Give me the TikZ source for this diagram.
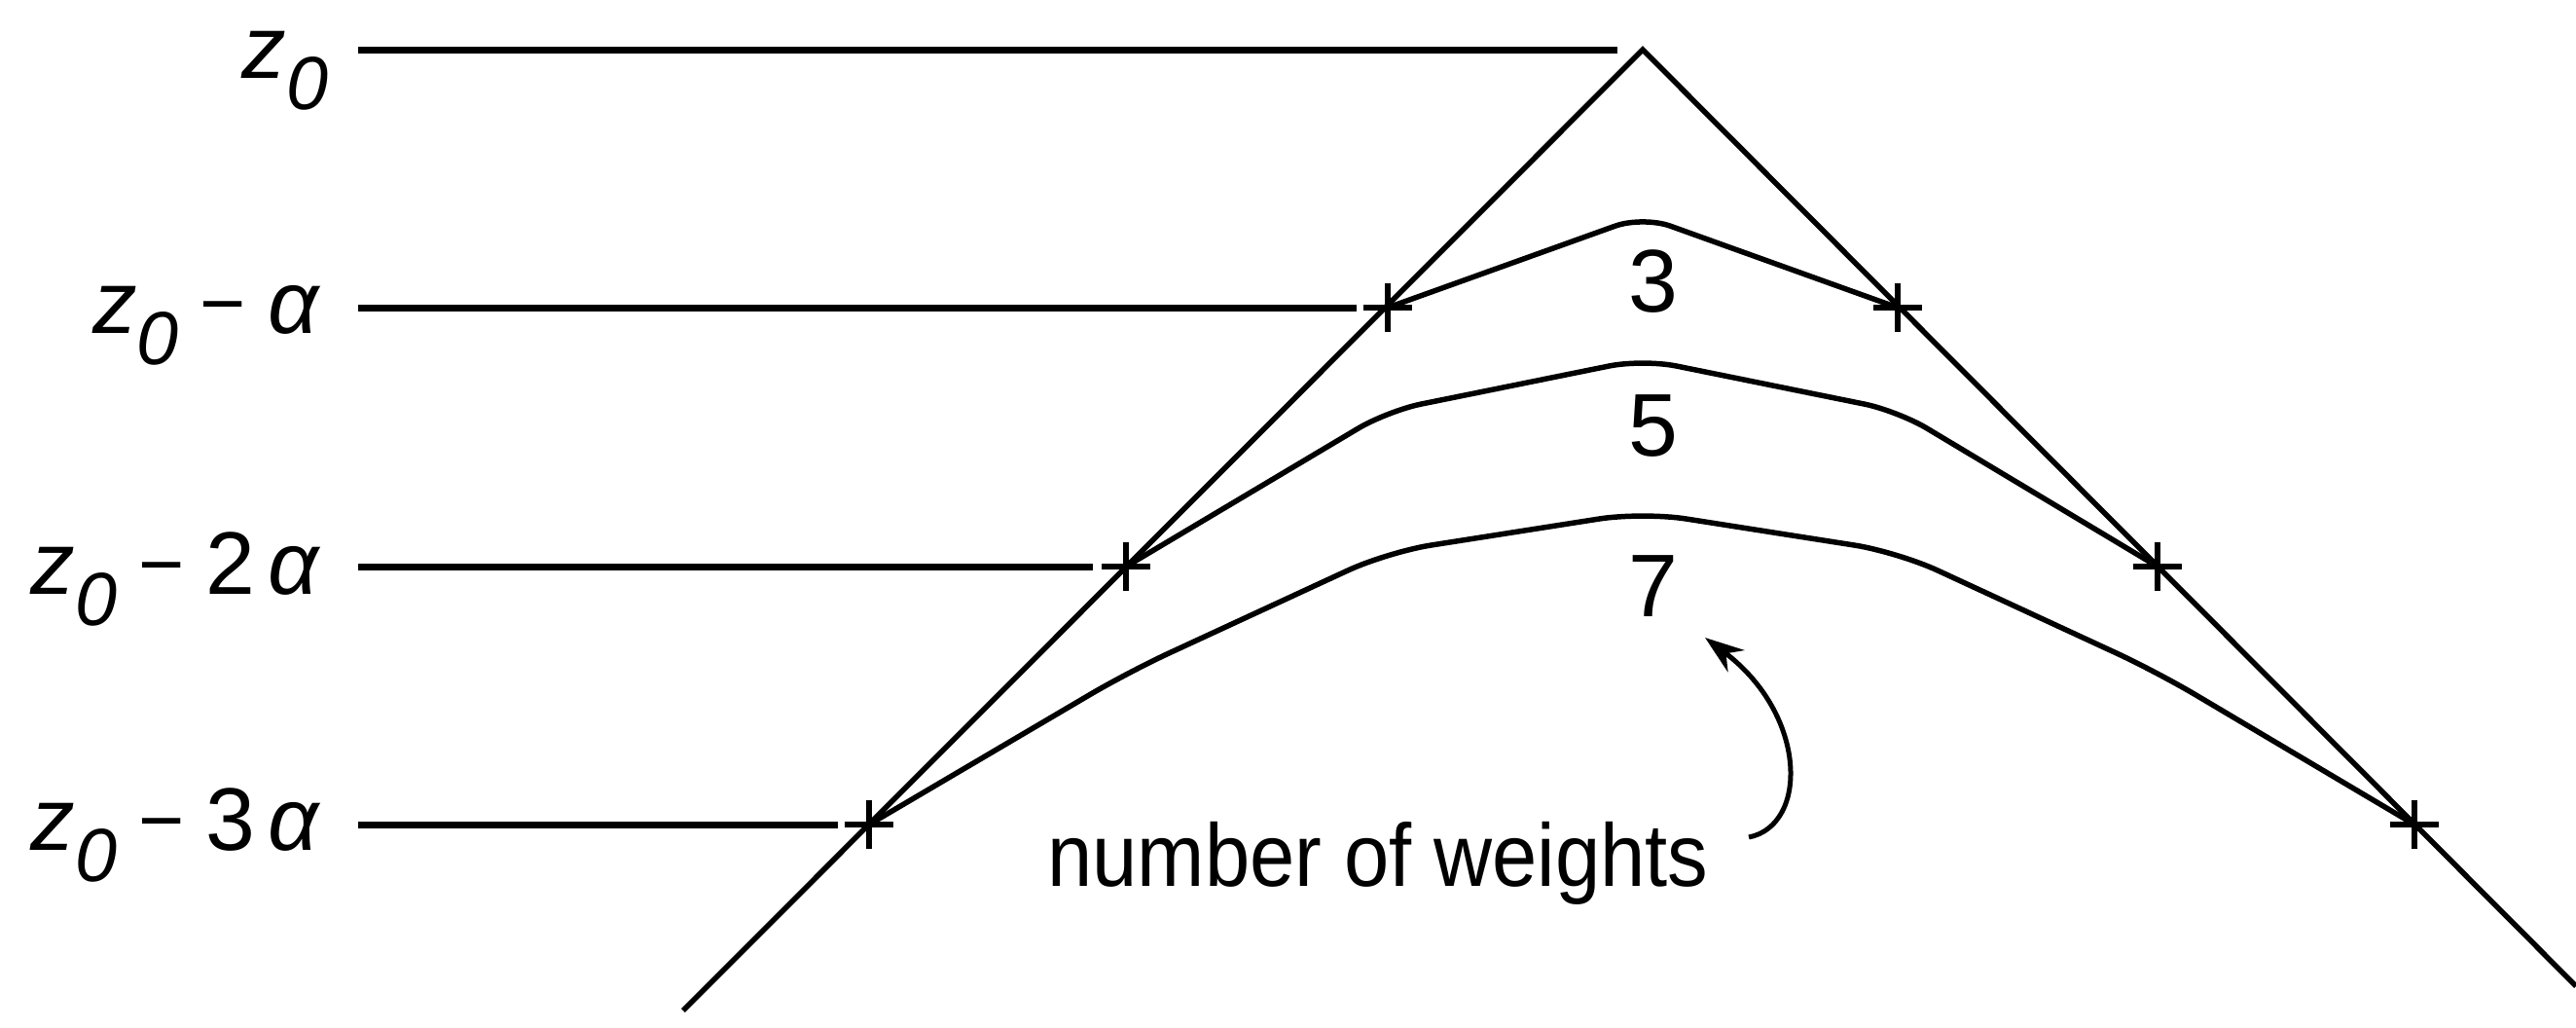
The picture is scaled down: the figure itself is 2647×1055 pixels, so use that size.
\documentclass[tikz,border=0pt]{standalone}
\usepackage{fontspec}
\setmainfont{Liberation Sans}
\newfontfamily\narrowsans[FakeStretch=0.91]{Liberation Sans}
\usetikzlibrary{arrows.meta}
\newcommand\zzero{\textit{z}\raisebox{-3.2mm}{\fontsize{22}{24}\selectfont\textit{0}}}
\newcommand\zminus[1]{\zzero\hspace{2.2mm}{\fontsize{23}{24}\selectfont\raisebox{0.3mm}{−}}\hspace{2.2mm}#1\textit{α}}
\begin{document}
\begin{tikzpicture}[x=0.1mm,y=-0.1mm,
  hline/.style={line width=0.7mm},
  slant/.style={line width=0.55mm},
  wcurve/.style={line width=0.55mm, line join=round},
  plusmark/.style={line width=0.6mm},
  zlabel/.style={anchor=base east, inner sep=0pt, font=\fontsize{26}{30}\selectfont},
  wnum/.style={anchor=base, inner sep=0pt, font=\fontsize{26}{30}\selectfont},
  note/.style={anchor=base, inner sep=0pt, font=\narrowsans\fontsize{26}{30}\selectfont},
  pointer/.style={line width=0.5mm, -{Stealth[length=4mm,width=2.8mm]}}]
\useasboundingbox (0,0) rectangle (2647,1055);

% apex, crossing points and line ends
\coordinate (A) at (1688,51);
\coordinate (L1) at (1426,316); \coordinate (R1) at (1950,316);
\coordinate (L2) at (1157,582); \coordinate (R2) at (2217,582);
\coordinate (L3) at (893,847);  \coordinate (R3) at (2481,847);
\coordinate (BL) at (702,1038); \coordinate (BR) at (2647,1013);

% the two slanted lines
\draw[slant] (BL) -- (A) -- (BR);

% level labels
\node[zlabel] (lz0) at (338,80) {\zzero};
\node[zlabel] (lz1) at (330,342) {\zminus{}};
\node[zlabel] (lz2) at (330,610) {\zminus{2\hspace{1.3mm}}};
\node[zlabel] (lz3) at (330,873) {\zminus{3\hspace{1.3mm}}};

% horizontal level lines
\coordinate (h0) at (368,51);
\coordinate (h1) at (368,316);
\coordinate (h2) at (368,582);
\coordinate (h3) at (368,847);
\draw[hline, shorten >=2.6mm] (h0) -- (A);
\draw[hline, shorten >=3.2mm] (h1) -- (L1);
\draw[hline, shorten >=3.4mm] (h2) -- (L2);
\draw[hline, shorten >=3.2mm] (h3) -- (L3);

% plus marks
\foreach \p in {L1,R1,L2,R2,L3,R3}
  \draw[plusmark] (\p) +(-25,0) -- +(25,0) (\p) +(0,-25) -- +(0,25);

% weight curves
\draw[wcurve, rounded corners=3mm] (L1) -- (1688,222) -- (R1);
\draw[wcurve, rounded corners=3.5mm] (L2) -- (1426,422) -- (1688,369) -- (1950,422) -- (R2);
\draw[wcurve, rounded corners=4.5mm] (L3) -- (1160,690) -- (1426,567) -- (1688,526) -- (1950,567) -- (2216,690) -- (R3);

% numbers
\node[wnum] (n3) at (1699,320) {3};
\node[wnum] (n5) at (1699,468) {5};
\node[wnum] (n7) at (1699,633) {7};

% note and pointer
\node[note] (nw) at (1416,910) {number of weights};
\coordinate (tail) at (1797,860);
\coordinate (tip) at (1752,655);
\draw[pointer] (tail) .. controls (1858,848) and (1858,735) .. (tip);
\end{tikzpicture}
\end{document}
